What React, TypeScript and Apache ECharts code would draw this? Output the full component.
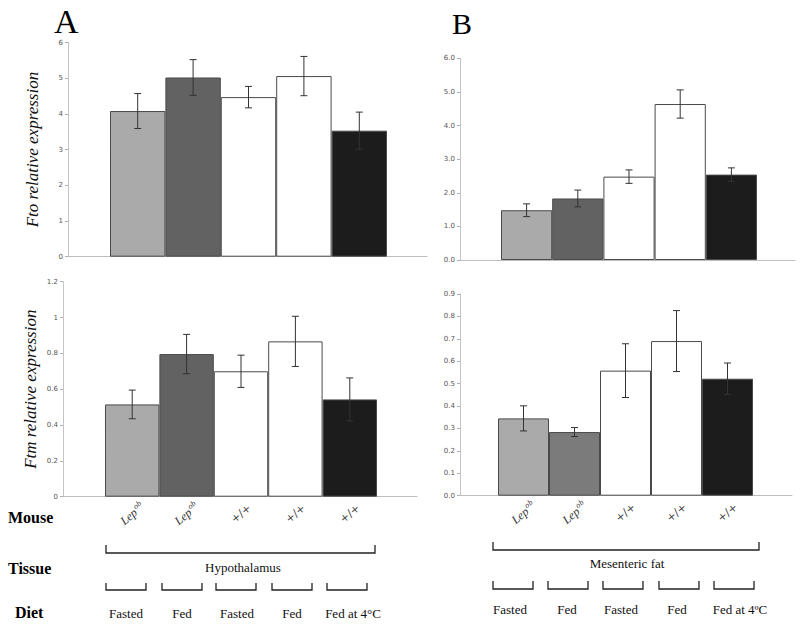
import React, { useEffect, useRef } from 'react';
import * as echarts from 'echarts';

// ---------- data ----------
const mouseLabels = ['Lep^ob', 'Lep^ob', '+/+', '+/+', '+/+'];
const dietLabelsA = ['Fasted', 'Fed', 'Fasted', 'Fed', 'Fed at 4°C'];
const dietLabelsB = ['Fasted', 'Fed', 'Fasted', 'Fed', 'Fed at 4ºC'];
const tissues = ['Hypothalamus', 'Mesenteric fat'];
const rowLabels = ['Mouse', 'Tissue', 'Diet'];
const panelLetters = ['A', 'B'];

const ftoHypoMean = [4.08, 5.02, 4.47, 5.06, 3.53];
const ftoHypoErr = [0.49, 0.5, 0.3, 0.55, 0.52];
const ftoMesMean = [1.48, 1.83, 2.48, 4.64, 2.54];
const ftoMesErr = [0.19, 0.25, 0.2, 0.42, 0.2];
const ftmHypoMean = [0.515, 0.796, 0.7, 0.867, 0.543];
const ftmHypoErr = [0.08, 0.11, 0.09, 0.14, 0.12];
const ftmMesMean = [0.345, 0.284, 0.558, 0.69, 0.522];
const ftmMesErr = [0.056, 0.02, 0.12, 0.136, 0.07];

// ---------- styles / layout ----------
const barColors = ['#aaaaaa', '#626262', '#ffffff', '#ffffff', '#1c1c1c'];
const barColorsMesFtm = ['#aaaaaa', '#7b7b7b', '#ffffff', '#ffffff', '#1c1c1c'];
const SERIF = 'Liberation Serif, serif';
const SANS = 'DejaVu Sans, sans-serif';

type Panel = {
  frame: { left: number; right: number; top: number; bottom: number };
  bars: { left: number; right: number };
  mean: number[];
  err: number[];
  max: number;
  step: number;
  fmt: (v: number) => string;
  name: string;
  nameGap: number;
  showMouse: boolean;
  colors: string[];
};

const panels: Panel[] = [
  {
    frame: { left: 68, right: 373, top: 42.5, bottom: 372.3 },
    bars: { left: 110, right: 413 },
    mean: ftoHypoMean, err: ftoHypoErr, max: 6, step: 1,
    fmt: (v) => String(Math.round(v)),
    name: 'Fto relative expression', nameGap: 27, showMouse: false, colors: barColors,
  },
  {
    frame: { left: 63, right: 383, top: 281.7, bottom: 132.3 },
    bars: { left: 105, right: 423 },
    mean: ftmHypoMean, err: ftmHypoErr, max: 1.2, step: 0.2,
    fmt: (v) => String(+v.toFixed(1)),
    name: 'Ftm relative expression', nameGap: 24, showMouse: true, colors: barColors,
  },
  {
    frame: { left: 460, right: 5, top: 58.3, bottom: 369 },
    bars: { left: 501, right: 43 },
    mean: ftoMesMean, err: ftoMesErr, max: 6, step: 1,
    fmt: (v) => v.toFixed(1),
    name: '', nameGap: 0, showMouse: false, colors: barColors,
  },
  {
    frame: { left: 460, right: 8, top: 294, bottom: 133.3 },
    bars: { left: 498, right: 47 },
    mean: ftmMesMean, err: ftmMesErr, max: 0.9, step: 0.1,
    fmt: (v) => v.toFixed(1),
    name: '', nameGap: 0, showMouse: true, colors: barColorsMesFtm,
  },
];

const tissueBrackets = [
  { x1: 106, x2: 375, yTop: 545, yH: 553, label: { x: 243, y: 567 } },
  { x1: 493, x2: 759, yTop: 542, yH: 550, label: { x: 627, y: 563 } },
];
const dietBrackets = [
  { starts: [106, 162, 216, 272, 327], w: 40, yTop: 583, yH: 590, centers: [126, 182, 237, 292, 353], ly: 613 },
  { starts: [493, 548, 603, 659, 714], w: 40, yTop: 581, yH: 589, centers: [510, 567, 621, 677, 740], ly: 609 },
];
const rowLabelPos = [
  { x: 8, y: 517 },
  { x: 8, y: 568 },
  { x: 15, y: 612 },
];
const letterPos = [
  { x: 54, y: 21, size: 34 },
  { x: 452, y: 23, size: 30 },
];

function buildOption() {
  const grid: any[] = [];
  const xAxis: any[] = [];
  const yAxis: any[] = [];
  const series: any[] = [];

  panels.forEach((p, i) => {
    const fi = i * 2;
    const bi = i * 2 + 1;
    grid.push({ left: p.frame.left, right: p.frame.right, top: p.frame.top, bottom: p.frame.bottom });
    grid.push({ left: p.bars.left, right: p.bars.right, top: p.frame.top, bottom: p.frame.bottom });

    xAxis.push({
      gridIndex: fi, type: 'category', data: [''],
      axisLine: { show: true, lineStyle: { color: '#bdbdbd', width: 1 } },
      axisTick: { show: false }, axisLabel: { show: false }, splitLine: { show: false },
    });
    yAxis.push({
      gridIndex: fi, type: 'value', min: 0, max: p.max, interval: p.step,
      axisLine: { show: true, lineStyle: { color: '#c4c4c4', width: 1 } },
      axisTick: { show: true, length: 3, lineStyle: { color: '#b0b0b0' } },
      axisLabel: { fontSize: 7, color: '#555555', fontFamily: SANS, margin: 5, formatter: p.fmt },
      splitLine: { show: false },
      name: p.name, nameLocation: 'middle', nameGap: p.nameGap, nameRotate: 90,
      nameTextStyle: { fontFamily: SERIF, fontStyle: 'italic', fontSize: 17, color: '#111' },
    });

    xAxis.push({
      gridIndex: bi, type: 'category', data: mouseLabels,
      axisLine: { show: false }, axisTick: { show: false }, splitLine: { show: false },
      axisLabel: {
        show: p.showMouse, rotate: 40, align: 'center', verticalAlign: 'middle', margin: 17,
        interval: 0,
        formatter: (v: string) => {
          const parts = v.split('^');
          return parts.length > 1 ? `{t|${parts[0]}}{s|${parts[1]}}` : `{p|${v}}`;
        },
        rich: {
          t: { fontFamily: SERIF, fontStyle: 'italic', fontSize: 12, color: '#333' },
          s: { fontFamily: SERIF, fontStyle: 'italic', fontSize: 8, color: '#333', verticalAlign: 'top', padding: [0, 0, 7, 1] },
          p: { fontFamily: SANS, fontSize: 11, color: '#444' },
        },
      },
    });
    yAxis.push({ gridIndex: bi, type: 'value', min: 0, max: p.max, show: false });

    series.push({
      type: 'bar', xAxisIndex: bi, yAxisIndex: bi, barCategoryGap: '0%',
      itemStyle: { borderColor: '#4a4a4a', borderWidth: 1 },
      data: p.mean.map((v, k) => ({ value: v, itemStyle: { color: p.colors[k] } })),
    });
    series.push({
      type: 'custom', xAxisIndex: bi, yAxisIndex: bi, z: 10,
      data: p.mean.map((v, k) => [k, v - p.err[k], v + p.err[k]]),
      renderItem: (params: any, api: any) => {
        const x = api.value(0);
        const lo = api.coord([x, api.value(1)]);
        const hi = api.coord([x, api.value(2)]);
        const cap = 3.5;
        const style = { stroke: '#333', lineWidth: 1 };
        return {
          type: 'group',
          children: [
            { type: 'line', shape: { x1: hi[0], y1: hi[1], x2: lo[0], y2: lo[1] }, style },
            { type: 'line', shape: { x1: hi[0] - cap, y1: hi[1], x2: hi[0] + cap, y2: hi[1] }, style },
            { type: 'line', shape: { x1: lo[0] - cap, y1: lo[1], x2: lo[0] + cap, y2: lo[1] }, style },
          ],
        };
      },
    });
  });

  const graphic: any[] = [];
  panelLetters.forEach((l, i) => {
    graphic.push({
      type: 'text', x: letterPos[i].x, y: letterPos[i].y,
      style: { text: l, fontFamily: SERIF, fontSize: letterPos[i].size, fill: '#000', align: 'left', verticalAlign: 'middle' },
    });
  });
  rowLabels.forEach((l, i) => {
    graphic.push({
      type: 'text', x: rowLabelPos[i].x, y: rowLabelPos[i].y,
      style: { text: l, fontFamily: SERIF, fontWeight: 'bold', fontSize: 16, fill: '#000', align: 'left', verticalAlign: 'middle' },
    });
  });
  const lineStyle = { stroke: '#222', lineWidth: 1.3, fill: null };
  tissueBrackets.forEach((b, i) => {
    graphic.push({
      type: 'polyline',
      shape: { points: [[b.x1, b.yTop], [b.x1, b.yH], [b.x2, b.yH], [b.x2, b.yTop]] },
      style: lineStyle,
    });
    graphic.push({
      type: 'text', x: b.label.x, y: b.label.y,
      style: { text: tissues[i], fontFamily: SERIF, fontSize: 13, fill: '#111', align: 'center', verticalAlign: 'middle' },
    });
  });
  dietBrackets.forEach((d, i) => {
    const labels = i === 0 ? dietLabelsA : dietLabelsB;
    d.starts.forEach((s, k) => {
      graphic.push({
        type: 'polyline',
        shape: { points: [[s, d.yTop], [s, d.yH], [s + d.w, d.yH], [s + d.w, d.yTop]] },
        style: lineStyle,
      });
      graphic.push({
        type: 'text', x: d.centers[k], y: d.ly,
        style: { text: labels[k], fontFamily: SERIF, fontSize: 13, fill: '#111', align: 'center', verticalAlign: 'middle' },
      });
    });
  });

  return {
    animation: false,
    backgroundColor: '#ffffff',
    grid, xAxis, yAxis, series, graphic,
  };
}

export default function App() {
  const ref = useRef<HTMLDivElement>(null);
  useEffect(() => {
    if (!ref.current) return;
    const chart = echarts.init(ref.current, undefined, { renderer: 'svg', width: 800, height: 629 });
    chart.setOption(buildOption() as any);
    return () => chart.dispose();
  }, []);
  return (
    <div
      ref={ref}
      style={{ position: 'fixed', left: 0, top: 0, width: 800, height: 629, background: '#fff' }}
    />
  );
}
